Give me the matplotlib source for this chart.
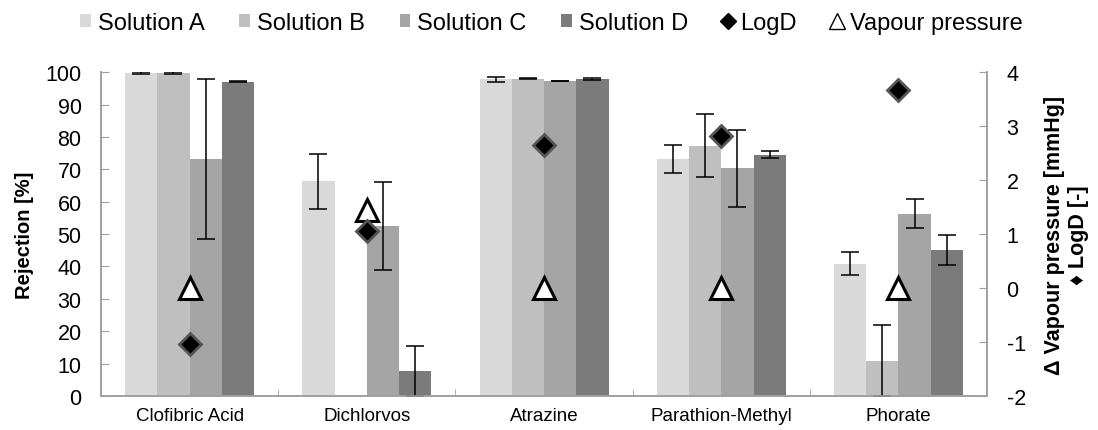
import numpy as np
import matplotlib
matplotlib.use("Agg")
import matplotlib.pyplot as plt
from matplotlib.lines import Line2D
from matplotlib.patches import Patch

plt.rcParams['font.family'] = ['Liberation Sans', 'DejaVu Sans']
plt.rcParams['axes.unicode_minus'] = False

categories = ["Clofibric Acid", "Dichlorvos", "Atrazine", "Parathion-Methyl", "Phorate"]
series_names = ["Solution A", "Solution B", "Solution C", "Solution D"]
sol_a = [99.8, 66.3, 97.8, 73.2, 40.9]
sol_b = [99.8, np.nan, 98.0, 77.3, 10.9]
sol_c = [73.2, 52.6, 97.3, 70.3, 56.3]
sol_d = [97.1, 7.7, 97.9, 74.5, 45.2]
err_a = [0.3, 8.4, 0.8, 4.3, 3.5]
err_b = [0.3, np.nan, 0.2, 9.7, 11.0]
err_c = [24.6, 13.6, 0.1, 11.8, 4.4]
err_d = [0.1, 7.7, 0.2, 1.1, 4.6]
logd = [-1.04, 1.06, 2.65, 2.82, 3.67]
vapour = [0.0, 1.45, 0.0, 0.0, 0.0]

colors = ["#d9d9d9", "#bfbfbf", "#a5a5a5", "#7a7b7a"]
spine_col = "#a0a0a0"

fig = plt.figure(figsize=(10.98, 4.31), dpi=100)
ax = fig.add_axes([0.092, 0.079, 0.807, 0.751])
ax2 = ax.twinx()

x = np.arange(len(categories))
width = 0.182
vals = [sol_a, sol_b, sol_c, sol_d]
errs = [err_a, err_b, err_c, err_d]
for i, (v, e, c) in enumerate(zip(vals, errs, colors)):
    pos = x + (i - 1.5) * width
    ax.bar(pos, v, width=width, color=c, edgecolor='none', zorder=2)
    ax.errorbar(pos, v, yerr=e, fmt='none', ecolor='black', elinewidth=1.1,
                capsize=6.5, capthick=1.1, zorder=3)

ax.set_xlim(-0.5, len(categories) - 0.5)
ax.set_ylim(0, 100)
ax.set_yticks(np.arange(0, 101, 10))
ax.set_xticks(x)
ax.set_xticklabels(categories, fontsize=13.5)
ax.set_xticks(np.arange(0.5, len(categories) - 0.5, 1), minor=True)
ax.tick_params(axis='x', which='major', length=0, pad=8)
ax.tick_params(axis='x', which='minor', length=5, direction='in', color=spine_col)
ax.tick_params(axis='y', direction='in', length=6, color=spine_col, labelsize=15.5, pad=14)
ax.set_ylabel("Rejection [%]", fontsize=14.5, fontweight='bold', labelpad=8)

ax2.set_ylim(-2, 4)
ax2.set_yticks(np.arange(-2, 5, 1))
ax2.tick_params(axis='y', direction='in', length=6, color=spine_col, labelsize=15.5, pad=14)
ax2.plot(x, vapour, linestyle='none', marker='^', markersize=16, markerfacecolor='white',
         markeredgecolor='black', markeredgewidth=2.2, zorder=5)
ax2.plot(x, logd, linestyle='none', marker='D', markersize=11.5, markerfacecolor='black',
         markeredgecolor='#555555', markeredgewidth=2, zorder=5)
ax2.set_ylabel("Δ Vapour pressure [mmHg]\n♦ LogD [-]", fontsize=15.5, fontweight='bold',
               rotation=90, labelpad=13, multialignment='center')

for a in (ax, ax2):
    a.spines['top'].set_visible(False)
    for s in ('left', 'right', 'bottom'):
        a.spines[s].set_color(spine_col)
        a.spines[s].set_linewidth(1.2)

handles = [Patch(facecolor=c, edgecolor='none') for c in colors]
handles.append(Line2D([], [], linestyle='none', marker='D', markersize=8,
                      markerfacecolor='black', markeredgecolor='black'))
handles.append(Line2D([], [], linestyle='none', marker='^', markersize=12,
                      markerfacecolor='white', markeredgecolor='black', markeredgewidth=1))
labels = series_names + ["LogD", "Vapour pressure"]
fig.legend(handles, labels, loc='center', bbox_to_anchor=(0.502, 0.945), ncol=6,
           frameon=False, fontsize=17, handlelength=0.45, handleheight=0.45,
           handletextpad=0.3, columnspacing=1.47, borderpad=0)

fig.savefig("out.png", dpi=100)
